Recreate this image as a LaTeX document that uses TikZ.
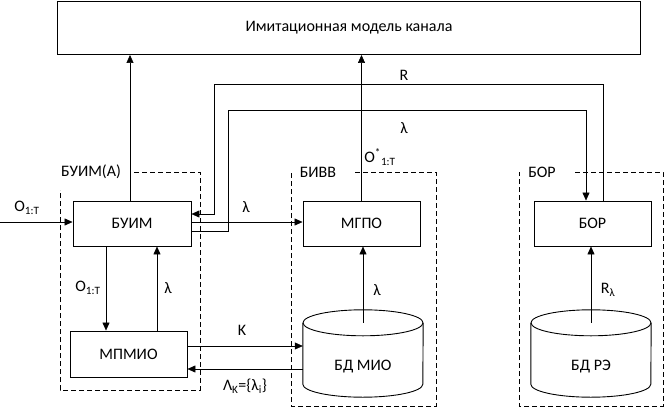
\documentclass[tikz,border=0pt]{standalone}
\usepackage{fontspec}
\setmainfont{Carlito}
\usetikzlibrary{arrows.meta}
\begin{document}
\begin{tikzpicture}[x=1pt,y=-1pt,
  every node/.style={font=\fontsize{16}{19}\selectfont},
  blk/.style={draw,line width=0.9pt,minimum width=117pt,minimum height=45pt,inner sep=0pt},
  db/.style={minimum width=120pt,minimum height=61pt,inner sep=0pt},
  dbline/.style={line width=0.9pt},
  arr/.style={line width=0.6pt,-{Triangle[length=8pt,width=7pt]}},
  frm/.style={line width=0.9pt,dash pattern=on 5pt off 3pt},
  lbl/.style={inner sep=1pt}]
\useasboundingbox (0,0) rectangle (665,410);
\node[blk,minimum width=583pt,minimum height=53pt] (model) at (349,28) {Имитационная модель канала};
\node[blk,minimum width=118pt] (buim) at (132,223.5) {БУИМ};
\node[blk] (mgpo) at (361.5,223.5) {МГПО};
\node[blk] (bor) at (592.5,223.5) {БОР};
\node[blk,minimum height=46pt] (mpmio) at (128.5,354) {МПМИО};
\node[db] (bdmio) at (363,366.5) {БД МИО};
\node[db] (bdre) at (591,366.5) {БД РЭ};
\foreach \n in {bdmio,bdre} {
  \draw[dbline] ([yshift=13pt]\n.north) ellipse [x radius=60pt,y radius=13pt];
  \draw[dbline] ([yshift=13pt]\n.north west) -- ([yshift=13pt]\n.south west)
    arc [start angle=180,end angle=360,x radius=60pt,y radius=13pt] -- ([yshift=13pt]\n.north east);
}
\draw[frm] (134,172) -| (200,390) -| (60,190);
\draw[frm] (355,172) -| (436,406) -| (291,172);
\draw[frm] (575,172) -| (663,406) -| (519,172);
\node[lbl] (tbuima) at (91,172) {БУИМ(А)};
\node[lbl] (tbivv) at (318,172) {БИВВ};
\node[lbl] (tbor) at (542,172) {БОР};
\coordinate (src) at (0,222);
\draw[arr] (src) -- (src -| buim.west);
\draw[arr] ([yshift=1.5pt]buim.east) -- ([yshift=1.5pt]mgpo.west);
\draw[arr] ([xshift=10.5pt]bor.north) |- (214,84) |- ([yshift=9.5pt]buim.east);
\draw[arr] ([yshift=-7.5pt]buim.east) -| (228,110) -| ([xshift=-6.5pt]bor.north);
\draw[arr] ([xshift=-2pt]buim.north) -- ([xshift=-2pt]buim.north |- model.south);
\draw[arr] (mgpo.north) -- (mgpo.north |- model.south);
\draw[arr] ([xshift=-26pt]buim.south) -- ([xshift=-22.5pt]mpmio.north);
\draw[arr] ([xshift=28.5pt]mpmio.north) -- ([xshift=25pt]buim.south);
\draw[arr] ([yshift=8pt]mpmio.east) -- ([yshift=8pt]mpmio.east -| bdmio.west);
\draw[arr] ([yshift=-15pt]mpmio.east -| bdmio.west) -- ([yshift=-15pt]mpmio.east);
\coordinate (bdmiotop) at ([yshift=13pt]bdmio.north);
\draw[arr] (bdmiotop) -- (bdmiotop |- mgpo.south);
\coordinate (bdretop) at ([yshift=13pt]bdre.north);
\draw[arr] (bdretop) -- (bdretop |- bor.south);
\node[lbl] (lsrc) at (27,208) {O\textsubscript{1:T}};
\node[lbl] (llam) at (246,207) {λ};
\node[lbl] (lr) at (404,75) {R};
\node[lbl] (llamb) at (404,128) {λ};
\node[lbl] (lost) at (380,157) {O\textsuperscript{*}\textsubscript{1:T}};
\node[lbl] (ldown) at (88,288) {O\textsubscript{1:T}};
\node[lbl] (lup) at (168,288) {λ};
\node[lbl] (lk) at (242,330) {K};
\node[lbl] (lset) at (245,386) {Λ\textsubscript{K}=\{λ\textsubscript{i}\}};
\node[lbl] (lmio) at (377,290) {λ};
\node[lbl] (lre) at (608,290) {R\textsubscript{λ}};
\end{tikzpicture}
\end{document}
